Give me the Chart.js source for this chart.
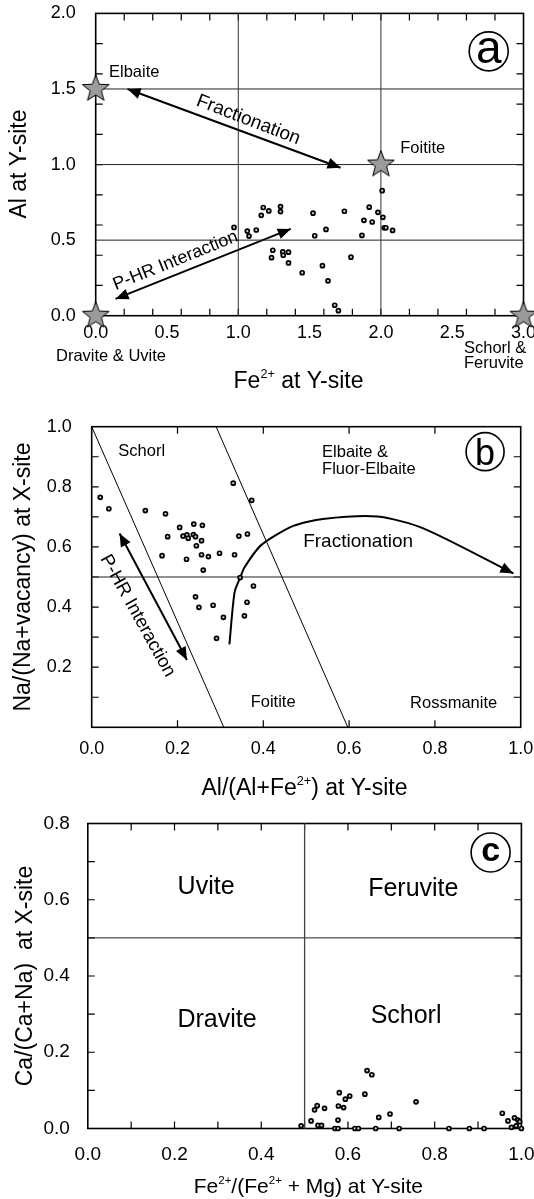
<!DOCTYPE html>
<html><head><meta charset="utf-8">
<script src="https://cdn.jsdelivr.net/npm/chart.js@4.4.1/dist/chart.umd.min.js"></script>
<style>
html,body{margin:0;padding:0;background:#fff;}
body{width:534px;height:1199px;position:relative;overflow:hidden;}
canvas{position:absolute;left:0;}
</style></head><body>
<canvas id="ca" width="560" height="425" style="top:-20px"></canvas>
<canvas id="cb" width="560" height="420" style="top:385px"></canvas>
<canvas id="cc" width="560" height="419" style="top:780px"></canvas>
<script>
// ================= DATA =================
// Panel (a): Fe2+ vs Al at Y-site
const aFe = [0.970,1.063,1.075,1.126,1.161,1.175,1.214,1.296,1.296,1.242,1.233,1.312,1.315,1.352,1.352,1.448,1.524,1.536,1.615,1.590,1.629,1.676,1.702,1.744,1.790,1.867,1.881,1.918,1.939,1.979,2.009,2.014,2.023,2.035,2.082];
const aAl = [0.584,0.560,0.527,0.567,0.664,0.716,0.693,0.722,0.689,0.433,0.384,0.422,0.400,0.420,0.349,0.284,0.678,0.529,0.571,0.331,0.231,0.069,0.033,0.691,0.387,0.531,0.631,0.718,0.620,0.684,0.827,0.651,0.582,0.582,0.564];
const aStarFe = [0, 2.0, 0, 3.0];      // Elbaite, Foitite, Dravite&Uvite, Schorl&Feruvite
const aStarAl = [1.5, 1.0, 0, 0];
const aVLines = [1.0, 2.0];
const aHLines = [0.5, 1.0, 1.5];
const aFracArrowX = [0.223, 1.717];
const aFracArrowY = [1.500, 0.979];
const aPhrArrowX = [0.139, 1.368];
const aPhrArrowY = [0.111, 0.574];
const aXTickVals = [0, 0.5, 1.0, 1.5, 2.0, 2.5, 3.0];
const aYTickVals = [0, 0.5, 1.0, 1.5, 2.0];

// Panel (b): Al/(Al+Fe2+) vs Na/(Na+vacancy)
const bAlRatio = [0.020,0.040,0.125,0.172,0.164,0.177,0.205,0.238,0.258,0.213,0.222,0.225,0.237,0.242,0.244,0.256,0.221,0.256,0.272,0.298,0.260,0.330,0.373,0.343,0.363,0.333,0.346,0.377,0.242,0.250,0.283,0.307,0.291,0.356,0.362];
const bNaRatio = [0.765,0.727,0.721,0.710,0.571,0.634,0.665,0.676,0.672,0.636,0.640,0.629,0.641,0.634,0.604,0.621,0.559,0.574,0.568,0.579,0.523,0.812,0.755,0.636,0.643,0.574,0.498,0.470,0.434,0.399,0.406,0.366,0.296,0.371,0.416];
const bDivTopX = [0, 0.290];
const bDivBottomX = [0.308, 0.597];
const bHLines = [0.5];
const bFracCurveX = [0.321,0.333,0.346,0.357,0.395,0.470,0.539,0.666,0.773,0.983];
const bFracCurveY = [0.276,0.449,0.498,0.534,0.606,0.670,0.693,0.701,0.662,0.512];
const bPhrArrowX = [0.065, 0.222];
const bPhrArrowY = [0.645, 0.224];
const bXTickVals = [0, 0.2, 0.4, 0.6, 0.8, 1.0];
const bYTickVals = [0.2, 0.4, 0.6, 0.8, 1.0];

// Panel (c): Fe2+/(Fe2+ + Mg) vs Ca/(Ca+Na)
const cFeRatio = [0.492,0.515,0.523,0.529,0.546,0.531,0.539,0.570,0.577,0.577,0.578,0.580,0.590,0.594,0.604,0.616,0.624,0.639,0.644,0.655,0.664,0.671,0.697,0.718,0.757,0.833,0.880,0.914,0.956,0.969,0.977,0.984,0.988,0.992,0.996,1.000];
const cCaRatio = [0.007,0.020,0.049,0.060,0.053,0.008,0.008,0.000,0.000,0.022,0.059,0.094,0.055,0.077,0.085,0.000,0.000,0.090,0.152,0.141,0.000,0.029,0.038,0.000,0.070,0.000,0.000,0.000,0.040,0.020,0.003,0.028,0.007,0.022,0.018,0.000];
const cVLines = [0.5];
const cHLines = [0.5];
const cXTickVals = [0, 0.2, 0.4, 0.6, 0.8, 1.0];
const cYTickVals = [0, 0.2, 0.4, 0.6, 0.8];

// ================= HELPERS =================
const FAM = '"Liberation Sans", Arial, Helvetica, sans-serif';
const fnt = (s, w) => (w ? w + ' ' : '') + s + 'px ' + FAM;
const zip = (xs, ys) => xs.map((x, i) => ({x, y: ys[i]}));

function makeStar(R) {
  const c = document.createElement('canvas');
  const s = Math.ceil(R * 2 + 4); c.width = s; c.height = s;
  const g = c.getContext('2d'); g.translate(s / 2, s / 2);
  g.beginPath();
  for (let i = 0; i < 10; i++) {
    const r = i % 2 ? R * 0.42 : R;
    const a = -Math.PI / 2 + i * Math.PI / 5;
    g.lineTo(r * Math.cos(a), r * Math.sin(a));
  }
  g.closePath(); g.fillStyle = '#9b9b9b'; g.fill();
  g.lineWidth = 1; g.strokeStyle = '#000'; g.stroke();
  return c;
}
const STAR = makeStar(14);

function pts(data) {
  return {data, showLine: false, pointRadius: 2, pointBorderWidth: 1.7, pointBackgroundColor: '#c8c8c8', pointBorderColor: '#000', clip: false, order: 1};
}
function seg(data, w, color, tension) {
  return {data, showLine: true, borderColor: color || '#000', borderWidth: w, pointRadius: 0, tension: tension || 0, fill: false, clip: false, order: 5};
}
function axis(o) {
  return {
    type: 'linear', min: o.min, max: o.max,
    grid: {display: false, drawTicks: false}, border: {display: false},
    title: {display: false},
    ticks: {color: '#000', font: {family: FAM, size: o.fs}, padding: o.pad, autoSkip: false, maxRotation: 0, minRotation: 0,
      callback: v => Number(v).toFixed(1)},
    afterBuildTicks: s => { s.ticks = o.vals.map(v => ({value: v})); },
    afterFit: s => { if (o.w != null) s.width = o.w; if (o.h != null) s.height = o.h; }
  };
}
function rich(ctx, segs, x, y, size, rot) {
  ctx.save(); ctx.translate(x, y); ctx.rotate(rot || 0);
  ctx.textBaseline = 'alphabetic'; ctx.textAlign = 'left'; ctx.fillStyle = '#000';
  let total = 0; const ws = [];
  segs.forEach(([t, sup]) => { ctx.font = fnt(sup ? size * 0.55 : size); const w = ctx.measureText(t).width; ws.push(w); total += w; });
  let cx = -total / 2;
  segs.forEach(([t, sup], i) => { ctx.font = fnt(sup ? size * 0.55 : size); ctx.fillText(t, cx, sup ? -size * 0.42 : 0); cx += ws[i]; });
  ctx.restore();
}
function arrowHead(ctx, x1, y1, x2, y2, len, half) {
  const a = Math.atan2(y2 - y1, x2 - x1);
  ctx.beginPath();
  ctx.moveTo(x2, y2);
  ctx.lineTo(x2 - len * Math.cos(a) + half * Math.sin(a), y2 - len * Math.sin(a) - half * Math.cos(a));
  ctx.lineTo(x2 - len * Math.cos(a) - half * Math.sin(a), y2 - len * Math.sin(a) + half * Math.cos(a));
  ctx.closePath(); ctx.fillStyle = '#000'; ctx.fill();
}

// ================= DECORATION (labels, ticks, frames); px/py are page coordinates =================
const DECO = {
  ca: {
    oy: -20,
    marks: {x: [0, 3, 0.2], y: [0, 2, 0.2]},
    arrows: [{x: aFracArrowX, y: aFracArrowY, both: true}, {x: aPhrArrowX, y: aPhrArrowY, both: true}],
    texts: [
      {t: 'Elbaite', x: 0.270, y: 1.610, s: 16.5},
      {t: 'Foitite', x: 2.293, y: 1.106, s: 16.5},
      {t: 'Fractionation', x: 1.070, y: 1.295, s: 19, rot: 21},
      {t: 'P-HR Interaction', x: 0.560, y: 0.363, s: 18, rot: -22}
    ],
    pxTexts: [
      {t: 'Dravite & Uvite', px: 111, py: 356, s: 16.5, align: 'center'},
      {t: 'Schorl &', px: 464, py: 348, s: 16.5, align: 'left'},
      {t: 'Feruvite', px: 464, py: 363, s: 16.5, align: 'left'}
    ],
    circle: {l: 'a', x: 2.756, y: 1.749, r: 19.5, s: 46, dy: 12},
    xTitle: {segs: [['Fe'], ['2+', 1], [' at Y-site']], px: 298.5, py: 388, s: 23},
    yTitle: {segs: [['Al at Y-site']], px: 26, py: 164, s: 23}
  },
  cb: {
    oy: 385,
    marks: {x: [0, 1, 0.2], y: [0, 1, 0.1]},
    arrows: [{x: bPhrArrowX, y: bPhrArrowY, both: true}, {x: bFracCurveX.slice(-2), y: bFracCurveY.slice(-2), both: false}],
    texts: [
      {t: 'Schorl', x: 0.1166, y: 0.917, s: 16.5},
      {t: 'Elbaite &', x: 0.537, y: 0.914, s: 16.5, align: 'left'},
      {t: 'Fluor-Elbaite', x: 0.537, y: 0.859, s: 16.5, align: 'left'},
      {t: 'Fractionation', x: 0.621, y: 0.617, s: 19},
      {t: 'Foitite', x: 0.423, y: 0.0825, s: 16.5},
      {t: 'Rossmanite', x: 0.8436, y: 0.0798, s: 16.5},
      {t: 'P-HR Interaction', x: 0.107, y: 0.371, s: 18.5, rot: 61}
    ],
    pxTexts: [],
    circle: {l: 'b', x: 0.917, y: 0.917, r: 19, s: 36, dy: 13},
    xTitle: {segs: [['Al/(Al+Fe'], ['2+', 1], [') at Y-site']], px: 304.5, py: 795, s: 23},
    yTitle: {segs: [['Na/(Na+vacancy) at X-site']], px: 30, py: 577, s: 23}
  },
  cc: {
    oy: 780,
    marks: {x: [0, 1, 0.1], y: [0, 0.8, 0.1]},
    arrows: [],
    texts: [
      {t: 'Uvite', x: 0.2728, y: 0.632, s: 25},
      {t: 'Feruvite', x: 0.7507, y: 0.627, s: 25},
      {t: 'Dravite', x: 0.298, y: 0.284, s: 25},
      {t: 'Schorl', x: 0.734, y: 0.296, s: 25}
    ],
    pxTexts: [],
    circle: {l: 'c', x: 0.929, y: 0.724, r: 19.5, s: 34, dy: 9, w: 'bold'},
    xTitle: {segs: [['Fe'], ['2+', 1], ['/(Fe'], ['2+', 1], [' + Mg) at Y-site']], px: 308.3, py: 1193, s: 21},
    yTitle: {segs: [['Ca/(Ca+Na)  at X-site']], px: 32, py: 976, s: 23}
  }
};

const decoPlugin = {
  id: 'deco',
  beforeDatasetsDraw(chart) {
    const d = DECO[chart.canvas.id]; if (!d) return;
    const ctx = chart.ctx, a = chart.chartArea, X = chart.scales.x, Y = chart.scales.y;
    ctx.save();
    ctx.strokeStyle = '#000';
    ctx.lineWidth = 1.2;
    const L = 7;
    const [x0, x1, xs] = d.marks.x, nx = Math.round((x1 - x0) / xs);
    for (let i = 1; i < nx; i++) {
      const p = X.getPixelForValue(x0 + i * xs);
      ctx.beginPath(); ctx.moveTo(p, a.top); ctx.lineTo(p, a.top + L); ctx.moveTo(p, a.bottom); ctx.lineTo(p, a.bottom - L); ctx.stroke();
    }
    const [y0, y1, ys] = d.marks.y, ny = Math.round((y1 - y0) / ys);
    for (let i = 1; i < ny; i++) {
      const p = Y.getPixelForValue(y0 + i * ys);
      ctx.beginPath(); ctx.moveTo(a.left, p); ctx.lineTo(a.left + L, p); ctx.moveTo(a.right, p); ctx.lineTo(a.right - L, p); ctx.stroke();
    }
    ctx.lineWidth = 1.6;
    ctx.strokeRect(a.left, a.top, a.right - a.left, a.bottom - a.top);
    ctx.restore();
  },
  afterDatasetsDraw(chart) {
    const d = DECO[chart.canvas.id]; if (!d) return;
    const ctx = chart.ctx, X = chart.scales.x, Y = chart.scales.y;
    ctx.save();
    d.arrows.forEach(ar => {
      const px = ar.x.map(v => X.getPixelForValue(v)), py = ar.y.map(v => Y.getPixelForValue(v));
      arrowHead(ctx, px[0], py[0], px[1], py[1], 13, 5.5);
      if (ar.both) arrowHead(ctx, px[1], py[1], px[0], py[0], 13, 5.5);
    });
    ctx.fillStyle = '#000';
    d.texts.forEach(t => {
      ctx.save();
      ctx.translate(X.getPixelForValue(t.x), Y.getPixelForValue(t.y));
      ctx.rotate((t.rot || 0) * Math.PI / 180);
      ctx.font = fnt(t.s); ctx.textAlign = t.align || 'center'; ctx.textBaseline = 'middle';
      ctx.fillText(t.t, 0, 0);
      ctx.restore();
    });
    d.pxTexts.forEach(t => {
      ctx.font = fnt(t.s); ctx.textAlign = t.align || 'center'; ctx.textBaseline = 'middle';
      ctx.fillText(t.t, t.px, t.py - d.oy);
    });
    const c = d.circle;
    const cx = X.getPixelForValue(c.x), cy = Y.getPixelForValue(c.y);
    ctx.beginPath(); ctx.arc(cx, cy, c.r, 0, Math.PI * 2); ctx.lineWidth = 1.6; ctx.strokeStyle = '#000'; ctx.stroke();
    ctx.font = fnt(c.s, c.w); ctx.textAlign = 'center'; ctx.textBaseline = 'alphabetic';
    ctx.fillText(c.l, cx, cy + c.dy);
    rich(ctx, d.xTitle.segs, d.xTitle.px, d.xTitle.py - d.oy, d.xTitle.s, 0);
    rich(ctx, d.yTitle.segs, d.yTitle.px, d.yTitle.py - d.oy, d.yTitle.s, -Math.PI / 2);
    ctx.restore();
  }
};

function baseOptions(xAxis, yAxis) {
  return {
    responsive: false, animation: false, devicePixelRatio: 1, events: [],
    layout: {padding: {top: 10, right: 10, bottom: 0, left: 0}, autoPadding: false},
    plugins: {legend: {display: false}, tooltip: {enabled: false}},
    scales: {x: xAxis, y: yAxis}
  };
}
// make the plot area land on the target rectangle (page coordinates)
function pinArea(chart, t) {
  const oy = DECO[chart.canvas.id].oy;
  const tt = {top: t.top - oy, bottom: t.bottom - oy, left: t.left, right: t.right};
  const pad = {top: 10, right: 10, bottom: 0, left: 0};
  for (let k = 0; k < 6; k++) {
    const a = chart.chartArea;
    const dt = tt.top - a.top, db = a.bottom - tt.bottom, dl = tt.left - a.left, dr = a.right - tt.right;
    if (Math.abs(dt) + Math.abs(db) + Math.abs(dl) + Math.abs(dr) < 0.02) break;
    pad.top += dt; pad.bottom += db; pad.left += dl; pad.right += dr;
    chart.config.options.layout.padding = Object.assign({}, pad);
    chart.update('none');
  }
}

// ================= CHART A =================
const aDatasets = [pts(zip(aFe, aAl))];
aDatasets.push({data: zip(aStarFe, aStarAl), showLine: false, pointStyle: STAR, pointRadius: 14, clip: false, order: 0});
aVLines.forEach(v => aDatasets.push(seg([{x: v, y: 0}, {x: v, y: 2}], 1, '#333')));
aHLines.forEach(v => aDatasets.push(seg([{x: 0, y: v}, {x: 3, y: v}], 1, '#222')));
aDatasets.push(seg(zip(aFracArrowX, aFracArrowY), 2, '#000'));
aDatasets.push(seg(zip(aPhrArrowX, aPhrArrowY), 2, '#000'));
const chA = new Chart(document.getElementById('ca'), {
  type: 'scatter', data: {datasets: aDatasets},
  options: baseOptions(
    axis({min: 0, max: 3, vals: aXTickVals, fs: 18, pad: 6.5, h: 60}),
    axis({min: 0, max: 2, vals: aYTickVals, fs: 18, pad: 20, w: 95.7})),
  plugins: [decoPlugin]
});
pinArea(chA, {top: 14.7, bottom: 315.7, left: 95.7, right: 523.5});

// ================= CHART B =================
const bDatasets = [pts(zip(bAlRatio, bNaRatio))];
bDivTopX.forEach((v, i) => bDatasets.push(seg([{x: v, y: 1}, {x: bDivBottomX[i], y: 0}], 1, '#000')));
bHLines.forEach(v => bDatasets.push(seg([{x: 0, y: v}, {x: 1, y: v}], 1, '#222')));
bDatasets.push(seg(zip(bFracCurveX, bFracCurveY), 2, '#000', 0.25));
bDatasets.push(seg(zip(bPhrArrowX, bPhrArrowY), 2, '#000'));
const chB = new Chart(document.getElementById('cb'), {
  type: 'scatter', data: {datasets: bDatasets},
  options: baseOptions(
    axis({min: 0, max: 1, vals: bXTickVals, fs: 18, pad: 10.5, h: 60}),
    axis({min: 0, max: 1, vals: bYTickVals, fs: 18, pad: 20, w: 91.7})),
  plugins: [decoPlugin]
});
pinArea(chB, {top: 426.7, bottom: 727.3, left: 91.7, right: 520.7});

// ================= CHART C =================
const cDatasets = [pts(zip(cFeRatio, cCaRatio))];
cVLines.forEach(v => cDatasets.push(seg([{x: v, y: 0}, {x: v, y: 0.8}], 1.3, '#444')));
cHLines.forEach(v => cDatasets.push(seg([{x: 0, y: v}, {x: 1, y: v}], 1, '#222')));
const chC = new Chart(document.getElementById('cc'), {
  type: 'scatter', data: {datasets: cDatasets},
  options: baseOptions(
    axis({min: 0, max: 1, vals: cXTickVals, fs: 19, pad: 14.5, h: 60}),
    axis({min: 0, max: 0.8, vals: cYTickVals, fs: 19, pad: 18, w: 87.8})),
  plugins: [decoPlugin]
});
pinArea(chC, {top: 823.5, bottom: 1128.5, left: 87.8, right: 521.4});
</script>
</body></html>
